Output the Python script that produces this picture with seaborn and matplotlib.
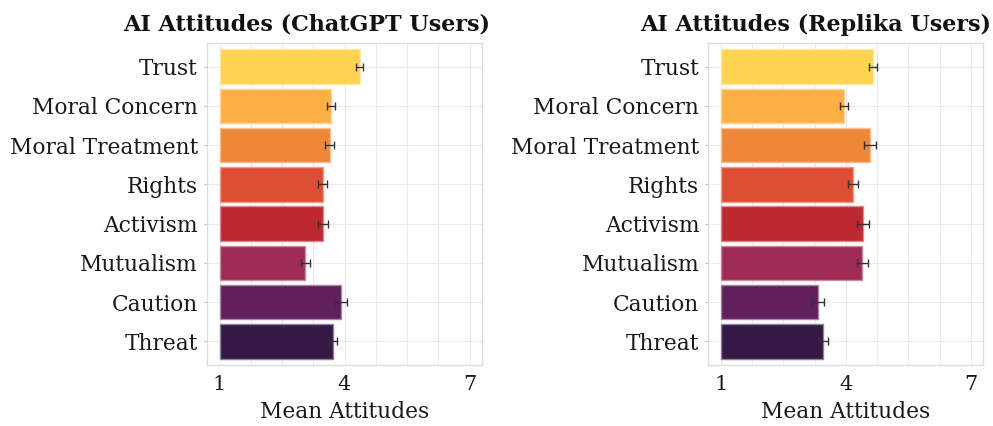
import numpy as np
import pandas as pd
import matplotlib
matplotlib.use("Agg")
import matplotlib.pyplot as plt
import matplotlib.colors as mcolors
import seaborn as sns

categories = ["Trust", "Moral Concern", "Moral Treatment", "Rights",
              "Activism", "Mutualism", "Caution", "Threat"]
chatgpt_means = [4.36, 3.67, 3.64, 3.48, 3.48, 3.06, 3.92, 3.72]
chatgpt_err = [0.09, 0.09, 0.11, 0.11, 0.12, 0.115, 0.14, 0.10]
replika_means = [4.66, 3.96, 4.58, 4.18, 4.42, 4.40, 3.34, 3.46]
replika_err = [0.10, 0.09, 0.14, 0.12, 0.14, 0.14, 0.14, 0.11]
colors = ["#FED352", "#FCAF43", "#EF8738", "#DE4E35",
          "#BC2931", "#9E2C55", "#611F5B", "#341845"]
titles = ["AI Attitudes (ChatGPT Users)", "AI Attitudes (Replika Users)"]
xticks = [1, 4, 7]
xlabel = "Mean Attitudes"

sns.set_theme(style="white")
plt.rcParams["font.family"] = ["DejaVu Serif"]

fig = plt.figure(figsize=(9.93, 4.26), dpi=100)
W, H = 993, 426
boxes = [(207, 482), (708.3, 983.3)]
top_px, bot_px = 43, 365

def lighten(c, f=0.45):
    r, g, b = mcolors.to_rgb(c)
    return (r + (1 - r) * f, g + (1 - g) * f, b + (1 - b) * f)

for (x0, x1), means, errs, title in zip(boxes, [chatgpt_means, replika_means],
                                        [chatgpt_err, replika_err], titles):
    ax = fig.add_axes([x0 / W, 1 - bot_px / H, (x1 - x0) / W, (bot_px - top_px) / H])
    df = pd.DataFrame({"cat": categories, "val": means})
    sns.barplot(data=df, x="val", y="cat", hue="cat", palette=colors,
                order=categories, hue_order=categories, orient="h", errorbar=None,
                width=0.88, saturation=1, legend=False, ax=ax, zorder=2)
    for p, v, c in zip(ax.patches, means, colors):
        p.set_x(1)
        p.set_width(v - 1)
        p.set_edgecolor(lighten(c))
        p.set_linewidth(1.0)
    ax.errorbar(means, np.arange(len(categories)), xerr=errs, fmt="none",
                ecolor="#333333", elinewidth=1.0, capsize=3, capthick=1.0, zorder=3)
    ax.set_xlim(0.7, 7.3)
    ax.set_ylim(7.6, -0.6)
    for gx in np.arange(1, 7.01, 0.75):
        ax.axvline(gx, color="#EBEBEB", lw=0.8, zorder=0)
    for gy in range(len(categories)):
        ax.axhline(gy, color="#EBEBEB", lw=0.8, zorder=0)
    ax.set_xticks(xticks)
    ax.set_xticklabels([str(t) for t in xticks])
    ax.tick_params(axis="x", length=0, pad=7, labelsize=15, labelcolor="#1a1a1a")
    ax.tick_params(axis="y", length=2.5, width=0.8, color="#BBBBBB", pad=4,
                   labelsize=15.7, labelcolor="#1a1a1a", left=True)
    ax.set_ylabel("")
    ax.set_xlabel(xlabel, fontsize=15.7, color="#1a1a1a", labelpad=5)
    for s in ax.spines.values():
        s.set_visible(True)
        s.set_color("#DDDDDD")
        s.set_linewidth(1.0)
    ax.text(1 + 8 / (x1 - x0), 1 + 12 / (bot_px - top_px), title, transform=ax.transAxes,
            ha="right", va="baseline", fontsize=16, fontweight="bold", color="#111111")

fig.savefig("out.png", dpi=100)
